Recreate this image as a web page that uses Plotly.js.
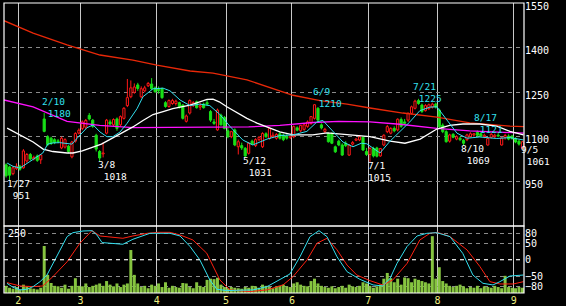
<!DOCTYPE html>
<html><head><meta charset="utf-8">
<script src="https://cdn.plot.ly/plotly-3.0.1.min.js"></script>
<style>html,body{margin:0;padding:0;background:#000;}</style>
</head><body>
<div id="chart" style="width:566px;height:306px;"></div>
<script>
// trading-day index 0..149 (1/25 .. 9/5)
const open  = [1005,998,975,992,1000,995,1018,1040,1025,1035,1022,1160,1100,1095,1090,1086,1062,1065,1068,1032,
1085,1112,1128,1132,1172,1156,1105,1050,1042,1112,1150,1140,1160,1140,1162,1205,1235,1250,1275,1235,
1255,1272,1278,1265,1262,1262,1215,1202,1212,1212,1215,1207,1152,1180,1205,1218,1200,1210,1215,1185,
1150,1123,1173,1165,1120,1100,1123,1066,1070,1061,1044,1085,1070,1090,1066,1110,1094,1100,1095,1110,
1105,1100,1098,1100,1130,1120,1125,1135,1145,1162,1196,1140,1118,1111,1110,1066,1085,1072,1078,1038,
1075,1088,1089,1098,1050,1040,1060,1062,1035,1072,1117,1112,1128,1123,1158,1150,1156,1179,1196,1222,
1207,1188,1195,1200,1210,1190,1139,1117,1085,1108,1092,1095,1088,1090,1100,1106,1115,1110,1100,1072,
1098,1100,1105,1072,1098,1102,1102,1094,1085,1061];
const high  = [1010,1002,1000,1010,1005,1058,1045,1045,1036,1040,1040,1180,1105,1100,1095,1092,1100,1095,1072,1086,
1115,1128,1155,1160,1180,1160,1110,1055,1080,1160,1158,1162,1165,1172,1200,1295,1290,1280,1282,1270,
1272,1285,1298,1270,1270,1266,1220,1226,1228,1225,1218,1210,1175,1226,1220,1222,1215,1215,1225,1190,
1160,1195,1178,1170,1130,1120,1128,1090,1080,1065,1082,1090,1095,1102,1115,1115,1130,1115,1112,1115,
1110,1108,1110,1138,1135,1140,1145,1155,1170,1210,1200,1145,1130,1115,1115,1070,1090,1078,1085,1075,
1085,1095,1105,1102,1062,1065,1066,1066,1062,1108,1140,1132,1135,1162,1165,1160,1182,1205,1225,1228,
1212,1210,1212,1215,1215,1195,1145,1122,1110,1112,1105,1100,1092,1110,1115,1112,1121,1115,1110,1098,
1112,1110,1112,1100,1110,1108,1106,1098,1090,1085];
const low   = [962,951,970,988,985,992,1012,1020,1020,1015,1008,1115,1068,1072,1075,1078,1058,1060,1044,1027,
1080,1108,1122,1125,1155,1130,1050,1018,1030,1108,1138,1135,1120,1135,1158,1200,1230,1245,1255,1230,
1250,1268,1258,1248,1245,1228,1198,1198,1208,1205,1195,1158,1148,1175,1200,1195,1190,1195,1205,1150,
1140,1120,1138,1125,1095,1095,1068,1040,1055,1031,1040,1072,1065,1085,1062,1096,1090,1095,1090,1090,
1085,1090,1092,1095,1118,1115,1120,1130,1140,1158,1150,1125,1112,1080,1075,1045,1068,1035,1065,1035,
1070,1085,1085,1052,1035,1015,1030,1030,1032,1068,1112,1108,1115,1118,1130,1140,1150,1175,1192,1208,
1180,1185,1190,1195,1195,1130,1112,1080,1080,1095,1088,1085,1069,1085,1098,1100,1100,1100,1095,1070,
1094,1095,1100,1070,1090,1088,1090,1078,1070,1061];
const close = [968,970,995,1000,990,1052,1040,1025,1030,1020,1038,1118,1073,1077,1080,1083,1095,1090,1050,1082,
1111,1122,1150,1155,1160,1135,1058,1028,1045,1156,1143,1158,1128,1168,1196,1232,1265,1268,1263,1262,
1265,1280,1262,1252,1255,1232,1202,1222,1222,1220,1200,1162,1170,1222,1215,1198,1205,1198,1210,1156,
1145,1190,1140,1128,1100,1117,1072,1083,1062,1035,1078,1075,1090,1098,1111,1100,1128,1105,1108,1095,
1090,1095,1102,1134,1122,1138,1140,1150,1168,1208,1156,1130,1125,1083,1078,1049,1072,1038,1070,1072,
1080,1092,1100,1055,1040,1060,1035,1034,1060,1105,1134,1128,1120,1159,1135,1145,1179,1201,1220,1212,
1185,1205,1208,1210,1200,1134,1117,1083,1106,1098,1100,1090,1078,1106,1110,1110,1105,1102,1105,1094,
1108,1105,1102,1096,1104,1092,1094,1082,1075,1083];
const volume = [30,22,18,25,15,35,28,20,18,15,22,197,76,42,30,28,22,35,18,30,
62,30,28,40,25,30,35,40,30,50,35,28,40,25,35,40,180,76,40,25,
30,20,35,30,40,25,45,22,30,25,22,42,40,25,20,45,30,25,55,60,
58,64,35,25,20,25,22,20,18,25,22,30,28,22,35,30,25,20,28,30,
35,28,25,40,45,35,30,28,50,60,40,30,25,22,28,20,25,30,22,35,
28,25,30,45,40,30,22,28,35,60,84,62,45,60,35,65,62,45,60,55,
50,45,40,238,60,108,50,40,30,25,30,35,28,20,25,22,30,20,28,25,
22,30,25,20,72,25,22,20,25,22];

// moving averages (trading-day index, price)
const maShortX = [0.3,2,4,6,7.8,10.6,12,13.5,15.5,17.6,19,20.5,22,23.3,25.1,27.1,29.1,30.8,32.9,34.9,37.8,39.5,42.4,45.3,47.3,50.2,53.1,55.9,58.8,61.7,64.6,68.3,71.2,75.3,79,82.8,86.8,89.7,91.4,94.3,97.2,100.1,102.5,104.1,107.9,110.8,113.6,116.5,119.4,122.3,124.3,127.2,130.1,133,136.7,141.6,145.4,149.3];
const maShortY = [1011,1000,994,1010,1025,1045,1075,1079,1080,1078,1075,1095,1115,1130,1140,1116,1100,1100,1116,1145,1195,1235,1262,1264,1255,1224,1205,1210,1205,1175,1135,1089,1072,1092,1104,1106,1118,1150,1155,1118,1082,1066,1078,1076,1045,1085,1116,1150,1188,1200,1201,1158,1112,1095,1099,1094,1097,1089];
const maMidX = [0.3,4,7.8,10.7,13.5,17.6,19.3,22,25.1,27.5,30.8,33.7,36.6,39.5,42.4,45.3,48.1,53.1,56,58,59.7,61.5,63.7,66.6,69.5,72.4,75.3,79,82.8,88.5,92.6,98.4,105,110.8,115.1,119.5,124.3,128,131.8,136.7,141.6,145.4,149.3];
const maMidY = [1129,1105,1082,1058,1050,1045,1045,1052,1066,1075,1096,1115,1133,1155,1175,1185,1195,1207,1218,1226,1227,1218,1201,1180,1162,1146,1133,1116,1106,1106,1113,1106,1100,1085,1078,1092,1126,1138,1143,1143,1136,1118,1106];
const maLongX = [-0.6,7.8,17.6,27,36.6,53,70,79,88.6,96,105,113.6,124.3,133.8,142.5,149.4];
const maLongY = [1224,1201,1152,1138,1131,1133,1133,1138,1148,1152,1150,1142,1128,1120,1115,1112];
const maVLongX = [-0.6,7.8,17.6,20.5,27.1,36.6,43.5,53.1,59.7,69.5,75.3,82.8,90.6,98.4,105,114.5,124.3,133.8,145.4,149.4];
const maVLongY = [1492,1450,1410,1400,1376,1359,1342,1322,1315,1292,1270,1240,1222,1210,1197,1180,1166,1147,1136,1134];

// oscillator (lower panel)
const oscFastX = [0.26,2,4,6,7.8,9.8,11.8,13.5,15.6,17.6,19.3,22.2,24.8,26.2,27.7,30,33.7,36.6,39.5,41.5,47.3,50.2,53.1,55.9,58.8,60.8,63.7,71.2,75.3,79,81.9,84.8,87.7,90.3,92.6,95.5,98.4,102.1,105.9,108.7,110.8,112.8,115.7,118.6,121.4,124.3,128.1,131.8,134.7,137.6,140.5,142.5,145.4,149.3];
const oscFastY = [-71,-83,-91,-89,-81,-66,-46,-11,29,70,82,87,88,75,52,50,47,62,72,80,80,72,40,0,-61,-89,-93,-91,-81,-60,-43,9,70,88,70,9,-36,-59,-76,-79,-56,-11,40,72,80,82,70,19,-46,-71,-76,-66,-49,-46];
const oscSlowX = [0.26,4,7.8,10.6,13.5,17.6,21.3,24.8,27.1,30.8,33.7,36.6,40.7,43.8,47.3,50.2,53.9,57.9,61.7,64.6,70.4,75.3,79.9,82.8,86.8,89.7,92.6,95.5,98.4,101.2,105,108.7,111.6,115.7,119.4,122.3,124.5,128.1,133,136.7,139.6,142.5,146.4,149.3];
const oscSlowY = [-69,-79,-81,-79,-51,-6,50,88,72,68,65,72,80,83,83,75,60,20,-61,-91,-96,-91,-76,-51,-1,50,65,30,-16,-46,-63,-76,-61,-11,60,80,83,70,30,-20,-66,-73,-73,-66];

const monthPos = [3.5,21.5,43.5,63.5,82.5,104.5,124.5,146.5];
const monthLabels = ['2','3','4','5','6','7','8','9'];
const priceTicks = [950,1100,1250,1400,1550];
const oscTicks = [-80,-50,0,50,80];
const volLabel = 250;

// high/low labels: [x index, price, text, color]
const marks = [
  [9.98,1200,'2/10<br>\u00a01180','#33e0f0'],
  [0.06,920,'1/27<br>\u00a0951','#ffffff'],
  [26.2,987,'3/8<br>\u00a01018','#ffffff'],
  [68.0,1001,'5/12<br>\u00a01031','#ffffff'],
  [88.2,1234,'6/9<br>\u00a01210','#33e0f0'],
  [104.1,981,'7/1<br>1015','#ffffff'],
  [117.0,1248,'7/21<br>\u00a01225','#33e0f0'],
  [131.1,1039,'8/10<br>\u00a01069','#ffffff'],
  [134.6,1143,'8/17<br>\u00a01121','#33e0f0'],
  [148.2,1036,'9/5<br>\u00a01061','#ffffff']
];

const idx = close.map((_, i) => i);
const UP = '#ff1818', DOWN = '#18e018';
const isUp = close.map((c, i) => c >= open[i]);
const bodyLo = close.map((c, i) => Math.min(c, open[i]));
const bodyHi = close.map((c, i) => Math.max(c, open[i]));
const bodyH = bodyHi.map((h, i) => Math.max(h - bodyLo[i], 3));

function wicks(up) {
  const xs = [], ys = [];
  idx.forEach(i => {
    if (isUp[i] !== up) return;
    xs.push(i, i, null, i, i, null);
    ys.push(low[i], bodyLo[i], null, bodyLo[i] + bodyH[i], high[i], null);
  });
  return {xs, ys};
}
const wUp = wicks(true), wDn = wicks(false);

const traces = [
  {type:'bar', x: idx, y: volume, xaxis:'x', yaxis:'y2', marker:{color:'#86c440', line:{width:0}}, width:0.86, hoverinfo:'skip'},
  {type:'scatter', mode:'lines', x: oscSlowX, y: oscSlowY, xaxis:'x', yaxis:'y3', line:{color:'#ff2010', width:1}, hoverinfo:'skip'},
  {type:'scatter', mode:'lines', x: oscFastX, y: oscFastY, xaxis:'x', yaxis:'y3', line:{color:'#33e0f0', width:1}, hoverinfo:'skip'},
  {type:'bar', x: idx, y: bodyH, base: bodyLo, xaxis:'x', yaxis:'y', width:0.62,
    marker:{color: isUp.map(u => u ? '#000000' : DOWN), line:{color: isUp.map(u => u ? UP : DOWN), width:1}}, hoverinfo:'skip'},
  {type:'scatter', mode:'lines', x: wUp.xs, y: wUp.ys, xaxis:'x', yaxis:'y', line:{color:UP, width:1}, hoverinfo:'skip'},
  {type:'scatter', mode:'lines', x: wDn.xs, y: wDn.ys, xaxis:'x', yaxis:'y', line:{color:DOWN, width:1}, hoverinfo:'skip'},
  {type:'scatter', mode:'lines', x: maVLongX, y: maVLongY, xaxis:'x', yaxis:'y', line:{color:'#e82808', width:1.3}, hoverinfo:'skip'},
  {type:'scatter', mode:'lines', x: maLongX, y: maLongY, xaxis:'x', yaxis:'y', line:{color:'#ff10ff', width:1.3}, hoverinfo:'skip'},
  {type:'scatter', mode:'lines', x: maMidX, y: maMidY, xaxis:'x', yaxis:'y', line:{color:'#ffffff', width:1.3}, hoverinfo:'skip'},
  {type:'scatter', mode:'lines', x: maShortX, y: maShortY, xaxis:'x', yaxis:'y', line:{color:'#33e0f0', width:1}, hoverinfo:'skip'}
];

const split = 0.231;
const annots = marks.map(m => ({x:m[0], y:m[1], xref:'x', yref:'y', text:m[2], showarrow:false, align:'left',
    font:{family:'DejaVu Sans Mono', size:9.5, color:m[3]}, xanchor:'left', yanchor:'middle', borderpad:0}));
annots.push({x:0, y:volLabel, xref:'paper', yref:'y2', text:String(volLabel), showarrow:false, xanchor:'left', yanchor:'middle',
    xshift:3, font:{family:'DejaVu Sans Mono', size:10, color:'#ffffff'}, borderpad:0});

const layout = {
  width:566, height:306,
  paper_bgcolor:'#000000', plot_bgcolor:'#000000',
  margin:{l:4, r:42, t:3, b:13, pad:0},
  showlegend:false,
  barmode:'overlay',
  font:{family:'DejaVu Sans Mono', size:10, color:'#ffffff'},
  xaxis:{range:[-0.6,149.45], anchor:'y2', tickvals:monthPos, ticktext:monthLabels,
    showgrid:true, gridcolor:'#c8c8c8', gridwidth:1, zeroline:false, showline:false, ticklabeloverflow:'allow',
    ticks:'', tickfont:{color:'#f0f080', size:10}, fixedrange:true},
  yaxis:{domain:[split,1], range:[798.3,1551.7], side:'right', tickvals:priceTicks, ticklabeloverflow:'allow',
    ticklabelshift:3,
    showgrid:true, gridcolor:'#8a8a8a', griddash:'4px,4px', zeroline:false, ticks:'',
    tickfont:{color:'#ffffff', size:10}, fixedrange:true},
  yaxis2:{domain:[0,split], range:[0,280.6], side:'left', showticklabels:false,
    showgrid:false, zeroline:false, ticks:'', fixedrange:true},
  yaxis3:{overlaying:'y2', range:[-100.3,102.1], side:'right', tickvals:oscTicks, ticklabeloverflow:'allow',
    showgrid:true, gridcolor:'#8a8a8a', griddash:'4px,4px', zeroline:false, ticks:'',
    tickfont:{color:'#ffffff', size:10}, fixedrange:true},
  shapes:[
    {type:'line', xref:'paper', yref:'y3', x0:0, x1:1, y0:0, y1:0, line:{color:'#ffffff', width:1, dash:'4px,4px'}},
    {type:'rect', xref:'paper', yref:'paper', x0:0, x1:1, y0:split, y1:1, line:{color:'#ffffff', width:1.2}},
    {type:'rect', xref:'paper', yref:'paper', x0:0, x1:1, y0:0, y1:split, line:{color:'#ffffff', width:1.2}}
  ],
  annotations: annots
};

Plotly.newPlot('chart', traces, layout, {staticPlot:true, displayModeBar:false});
</script>
</body></html>
